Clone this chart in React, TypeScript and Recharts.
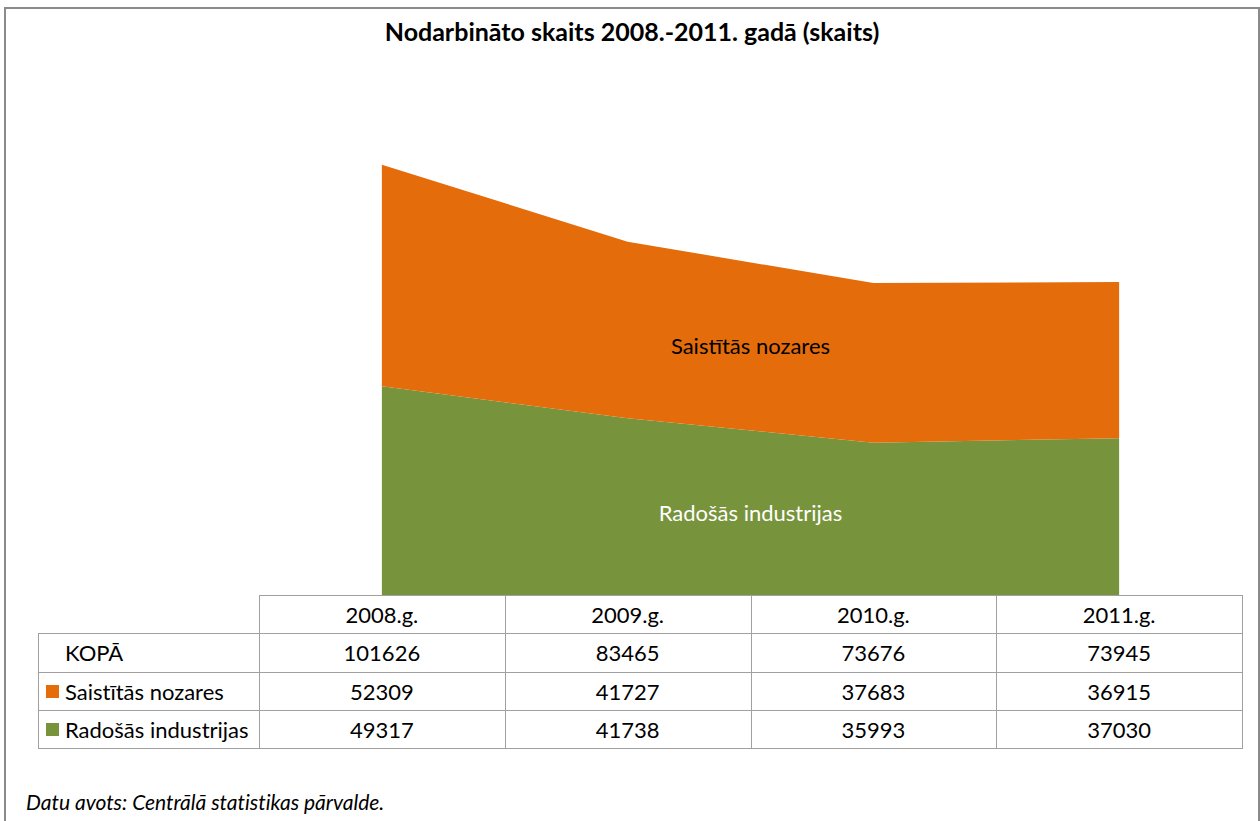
import React from 'react';
import { AreaChart, Area, XAxis, YAxis, ReferenceDot } from 'recharts';

const title = 'Nodarbināto skaits 2008.-2011. gadā (skaits)';
const source = 'Datu avots: Centrālā statistikas pārvalde.';
const years = ['2008.g.', '2009.g.', '2010.g.', '2011.g.'];
const saistitas = [52309, 41727, 37683, 36915];
const radosas = [49317, 41738, 35993, 37030];
const kopa = [101626, 83465, 73676, 73945];
const totalLabel = 'KOPĀ';
const saistitasName = 'Saistītās nozares';
const radosasName = 'Radošās industrijas';
const yDomain = [0, 120000];

const ORANGE = '#E46C0A';
const GREEN = '#77933C';
const FONT = 'Lato, "Open Sans", sans-serif';
const LINE = '#a0a0a0';
const FS = 22;

const data = years.map((y, i) => ({ i, year: y, radosas: radosas[i], saistitas: saistitas[i] }));

// label anchor: mid between 2nd and 3rd category, middle of each band
const midIdx = [1, 2];
const orangeMid = midIdx.reduce((s, k) => s + radosas[k] + saistitas[k] / 2, 0) / midIdx.length;
const greenMid = midIdx.reduce((s, k) => s + radosas[k] / 2, 0) / midIdx.length;

const colX = [38, 259, 504.75, 750.5, 996.25, 1242];
const rowY = [595, 633, 672, 710, 748];

const rows = [
  { label: totalLabel, color: null as string | null, values: kopa },
  { label: saistitasName, color: ORANGE, values: saistitas },
  { label: radosasName, color: GREEN, values: radosas },
];

const cellText: React.CSSProperties = {
  position: 'absolute',
  display: 'flex',
  alignItems: 'center',
  justifyContent: 'center',
  fontFamily: FONT,
  fontSize: FS,
  color: '#000',
  whiteSpace: 'nowrap',
  fontVariantLigatures: 'none',
};

export default function App() {
  const lines: React.ReactNode[] = [];
  rowY.forEach((y, r) => {
    const x0 = r === 0 ? colX[1] : colX[0];
    lines.push(
      <div key={'h' + r} style={{ position: 'absolute', left: x0, top: y, width: colX[5] - x0 + 1, height: 1, background: LINE }} />
    );
  });
  colX.forEach((x, c) => {
    const y0 = c === 0 ? rowY[1] : rowY[0];
    lines.push(
      <div key={'v' + c} style={{ position: 'absolute', left: x, top: y0, width: 1, height: rowY[4] - y0 + 1, background: LINE }} />
    );
  });

  const cells: React.ReactNode[] = [];
  years.forEach((yr, c) => {
    cells.push(
      <div key={'hd' + c} style={{ ...cellText, left: colX[c + 1], top: rowY[0], width: colX[c + 2] - colX[c + 1], height: rowY[1] - rowY[0] }}>
        {yr}
      </div>
    );
  });
  rows.forEach((row, r) => {
    cells.push(
      <div key={'lb' + r} style={{ ...cellText, justifyContent: 'flex-start', left: colX[0] + 8, top: rowY[r + 1], width: colX[1] - colX[0] - 8, height: rowY[r + 2] - rowY[r + 1] }}>
        <span style={{ display: 'inline-block', width: 13, height: 13, background: row.color || 'transparent', marginRight: 6 }} />
        {row.label}
      </div>
    );
    row.values.forEach((v, c) => {
      cells.push(
        <div key={'c' + r + '_' + c} style={{ ...cellText, left: colX[c + 1], top: rowY[r + 1], width: colX[c + 2] - colX[c + 1], height: rowY[r + 2] - rowY[r + 1] }}>
          {String(v)}
        </div>
      );
    });
  });

  return (
    <div style={{ position: 'absolute', left: 0, top: 0, width: 1260, height: 821, overflow: 'hidden', background: '#fff' }}>
      <div style={{ position: 'absolute', left: 4, top: 7, width: 1256, height: 840, border: '2px solid #8a8a8a', boxSizing: 'border-box' as any }} />
      <div style={{ position: 'absolute', left: 5, top: 16, width: 1254, textAlign: 'center', fontFamily: FONT, fontWeight: 700, fontSize: 25, color: '#000', fontVariantLigatures: 'none' }}>
        {title}
      </div>
      <div style={{ position: 'absolute', left: 0, top: 0 }}>
        <AreaChart width={1260} height={821} data={data} margin={{ top: 87, left: 259, right: 18, bottom: 226 }}>
          <XAxis dataKey="i" type="number" domain={[-0.5, 3.5]} hide />
          <YAxis type="number" domain={yDomain} hide />
          <Area type="linear" dataKey="radosas" stackId="1" fill={GREEN} fillOpacity={1} stroke="none" isAnimationActive={false} />
          <Area type="linear" dataKey="saistitas" stackId="1" fill={ORANGE} fillOpacity={1} stroke="none" isAnimationActive={false} />
          <ReferenceDot x={1.5} y={orangeMid} r={0} fill="none" stroke="none"
            label={{ value: saistitasName, position: 'center', fill: '#000', fontSize: FS, fontFamily: FONT }} />
          <ReferenceDot x={1.5} y={greenMid} r={0} fill="none" stroke="none"
            label={{ value: radosasName, position: 'center', fill: '#fff', fontSize: FS, fontFamily: FONT }} />
        </AreaChart>
      </div>
      {lines}
      {cells}
      <div style={{ position: 'absolute', left: 26, top: 789, fontFamily: FONT, fontStyle: 'italic', fontSize: 21, color: '#000', whiteSpace: 'nowrap', fontVariantLigatures: 'none' }}>
        {source}
      </div>
    </div>
  );
}
